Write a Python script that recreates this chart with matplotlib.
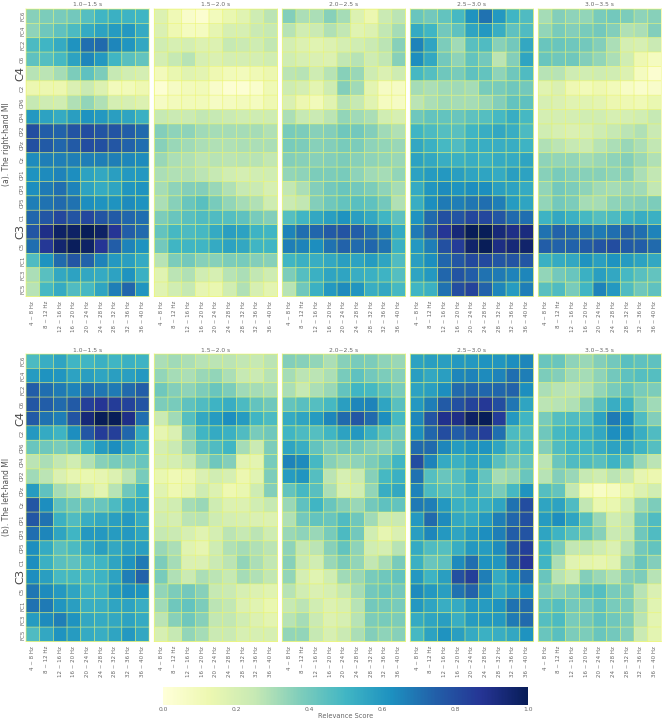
import numpy as np
import matplotlib
matplotlib.use("Agg")
import matplotlib.pyplot as plt

channels = ["FC6","FC4","FC2","C6","C4","C2","CP6","CP4","CP2","CPz","Cz","CP1","CP3","CP5","C1","C3","C5","FC1","FC3","FC5"]
bands = ["4 ~ 8 Hz","8 ~ 12 Hz","12 ~ 16 Hz","16 ~ 20 Hz","20 ~ 24 Hz","24 ~ 28 Hz","28 ~ 32 Hz","32 ~ 36 Hz","36 ~ 40 Hz"]
windows = ["1.0~1.5 s","1.5~2.0 s","2.0~2.5 s","2.5~3.0 s","3.0~3.5 s"]

right_1 = [
[.36,.38,.39,.40,.46,.50,.52,.51,.50],[.35,.41,.44,.48,.54,.57,.59,.60,.54],[.48,.50,.54,.62,.71,.72,.65,.61,.55],
[.44,.46,.49,.57,.65,.60,.50,.45,.43],[.28,.27,.31,.38,.44,.38,.25,.22,.21],[.13,.13,.13,.19,.24,.18,.09,.10,.12],
[.25,.23,.22,.29,.34,.29,.21,.20,.18],[.60,.57,.54,.58,.62,.60,.58,.56,.52],[.80,.75,.74,.78,.80,.78,.78,.75,.72],
[.79,.76,.73,.76,.80,.79,.77,.74,.71],[.64,.67,.67,.67,.67,.67,.67,.65,.64],[.62,.64,.66,.63,.57,.55,.58,.60,.60],
[.63,.68,.71,.66,.57,.54,.56,.61,.62],[.67,.70,.72,.70,.63,.62,.62,.64,.62],[.73,.77,.82,.78,.82,.78,.76,.73,.71],
[.77,.90,.97,.97,1.0,.97,.87,.75,.72],[.71,.86,.95,.99,.97,.87,.75,.66,.62],[.47,.62,.72,.77,.74,.66,.60,.58,.54],
[.30,.45,.55,.57,.55,.54,.57,.62,.52],[.28,.49,.54,.47,.49,.56,.67,.73,.61]]
right_2 = [
[.18,.11,.05,.03,.09,.14,.17,.23,.27],[.19,.12,.08,.08,.15,.20,.20,.24,.25],[.22,.20,.21,.18,.18,.25,.24,.23,.26],
[.21,.25,.28,.20,.19,.21,.21,.21,.22],[.09,.14,.17,.16,.12,.10,.09,.11,.13],[.02,.07,.09,.10,.05,.02,.02,.04,.11],
[.07,.09,.10,.10,.07,.08,.09,.08,.12],[.25,.24,.24,.26,.25,.24,.23,.23,.23],[.37,.35,.35,.32,.31,.31,.31,.31,.29],
[.36,.33,.32,.30,.29,.29,.30,.30,.30],[.33,.30,.29,.27,.28,.27,.28,.28,.26],[.30,.29,.29,.27,.25,.22,.21,.22,.22],
[.31,.35,.37,.37,.33,.29,.25,.24,.20],[.30,.36,.42,.45,.39,.34,.31,.29,.23],[.38,.42,.45,.47,.47,.46,.44,.39,.37],
[.43,.49,.48,.49,.54,.58,.57,.51,.50],[.40,.50,.50,.50,.54,.57,.55,.50,.50],[.28,.38,.40,.36,.36,.38,.39,.37,.36],
[.17,.27,.29,.22,.20,.28,.30,.26,.23],[.17,.22,.25,.15,.14,.22,.29,.20,.16]]
right_3 = [
[.37,.30,.30,.36,.31,.18,.13,.24,.27],[.28,.22,.24,.29,.26,.17,.18,.26,.31],[.21,.18,.17,.18,.21,.22,.24,.27,.36],
[.22,.20,.19,.18,.26,.28,.23,.26,.36],[.27,.28,.23,.28,.36,.33,.23,.19,.23],[.23,.21,.16,.23,.37,.32,.16,.07,.07],
[.19,.13,.10,.17,.28,.25,.17,.08,.07],[.30,.25,.24,.27,.34,.32,.30,.22,.20],[.39,.38,.36,.37,.41,.40,.37,.32,.29],
[.39,.38,.36,.37,.39,.38,.35,.34,.33],[.37,.36,.36,.37,.38,.36,.35,.34,.33],[.34,.35,.38,.38,.39,.35,.32,.31,.34],
[.26,.30,.37,.40,.42,.40,.38,.35,.31],[.24,.26,.37,.41,.43,.45,.44,.40,.29],[.46,.50,.55,.58,.62,.58,.55,.50,.44],
[.66,.71,.73,.76,.78,.75,.71,.67,.54],[.67,.66,.63,.70,.74,.72,.73,.70,.52],[.50,.52,.53,.55,.58,.57,.59,.56,.47],
[.38,.46,.52,.56,.56,.53,.52,.51,.46],[.28,.41,.52,.60,.64,.61,.53,.55,.49]]
right_4 = [
[.42,.40,.43,.49,.62,.70,.60,.50,.47],[.54,.50,.40,.44,.56,.60,.53,.44,.47],[.66,.56,.38,.32,.45,.47,.36,.40,.55],
[.63,.55,.40,.35,.43,.40,.27,.37,.56],[.49,.46,.41,.39,.44,.43,.35,.41,.47],[.31,.30,.32,.32,.31,.39,.39,.41,.40],
[.27,.30,.32,.31,.31,.33,.37,.43,.44],[.41,.43,.43,.42,.44,.46,.49,.53,.49],[.50,.48,.46,.45,.50,.53,.55,.53,.48],
[.55,.52,.49,.47,.52,.53,.53,.53,.51],[.57,.55,.53,.52,.53,.52,.54,.54,.56],[.57,.59,.60,.58,.56,.56,.54,.58,.57],
[.54,.61,.64,.62,.63,.63,.58,.57,.54],[.53,.63,.68,.67,.69,.71,.67,.59,.56],[.62,.72,.79,.78,.82,.82,.77,.72,.71],
[.68,.76,.87,.93,1.0,1.0,.93,.90,.92],[.60,.67,.79,.85,.96,1.0,.91,.93,.96],[.58,.63,.73,.77,.81,.81,.77,.78,.77],
[.56,.60,.73,.78,.75,.70,.68,.66,.65],[.50,.52,.70,.80,.83,.74,.65,.59,.67]]
right_5 = [
[.31,.37,.35,.34,.39,.40,.38,.35,.36],[.34,.39,.37,.39,.40,.37,.29,.30,.37],[.42,.42,.41,.40,.37,.30,.21,.20,.24],
[.42,.41,.41,.37,.34,.30,.22,.12,.08],[.28,.28,.23,.22,.23,.22,.18,.08,.03],[.17,.19,.12,.10,.12,.10,.06,.04,.05],
[.20,.19,.17,.17,.16,.13,.12,.11,.14],[.21,.21,.21,.22,.22,.20,.21,.22,.25],[.22,.20,.19,.20,.23,.25,.27,.29,.24],
[.29,.27,.25,.24,.28,.30,.33,.30,.26],[.35,.34,.34,.32,.33,.35,.37,.33,.29],[.36,.39,.37,.36,.36,.35,.36,.30,.26],
[.34,.40,.38,.35,.32,.31,.33,.32,.26],[.34,.40,.38,.31,.31,.35,.36,.37,.38],[.51,.55,.52,.49,.46,.48,.51,.53,.52],
[.70,.74,.72,.70,.68,.71,.74,.71,.66],[.75,.74,.74,.76,.78,.80,.76,.75,.72],[.52,.54,.55,.62,.58,.62,.59,.57,.55],
[.34,.40,.42,.52,.58,.55,.49,.45,.43],[.45,.47,.39,.50,.66,.60,.47,.41,.44]]
left_1 = [
[.48,.53,.56,.50,.50,.52,.50,.52,.51],[.59,.62,.61,.57,.58,.56,.58,.58,.60],[.75,.71,.68,.66,.71,.69,.68,.72,.75],
[.77,.75,.72,.76,.84,.87,.85,.83,.78],[.76,.70,.67,.78,.93,1.0,1.0,.90,.71],[.60,.54,.51,.63,.77,.85,.84,.73,.55],
[.42,.41,.39,.42,.51,.59,.63,.56,.49],[.27,.30,.26,.22,.29,.36,.39,.39,.42],[.32,.27,.19,.15,.14,.15,.18,.27,.39],
[.59,.44,.31,.28,.20,.16,.28,.41,.50],[.77,.63,.44,.41,.42,.42,.48,.54,.55],[.77,.70,.52,.47,.53,.55,.58,.60,.54],
[.71,.65,.56,.50,.60,.60,.59,.60,.56],[.63,.54,.45,.48,.54,.58,.55,.58,.58],[.63,.52,.45,.44,.49,.50,.56,.62,.68],
[.63,.58,.49,.49,.49,.51,.57,.67,.74],[.69,.64,.60,.56,.51,.51,.59,.63,.62],[.70,.68,.61,.58,.53,.53,.56,.57,.53],
[.59,.64,.67,.62,.55,.54,.55,.57,.54],[.47,.55,.62,.59,.54,.53,.56,.60,.55]]
left_2 = [
[.30,.32,.30,.28,.27,.27,.26,.25,.27],[.34,.31,.30,.33,.34,.30,.25,.24,.28],[.41,.37,.35,.38,.42,.38,.32,.31,.30],
[.38,.39,.44,.47,.51,.53,.48,.43,.41],[.24,.32,.46,.55,.59,.63,.59,.50,.48],[.15,.19,.38,.50,.54,.52,.47,.39,.41],
[.21,.24,.33,.43,.47,.50,.31,.24,.38],[.20,.21,.25,.33,.41,.37,.17,.16,.39],[.14,.11,.13,.19,.22,.20,.13,.17,.38],
[.17,.12,.15,.23,.18,.12,.14,.23,.37],[.21,.22,.31,.33,.23,.18,.18,.22,.25],[.22,.21,.27,.28,.23,.21,.20,.19,.18],
[.25,.24,.20,.17,.21,.27,.25,.27,.23],[.33,.30,.17,.15,.23,.29,.31,.29,.27],[.38,.31,.19,.19,.24,.27,.34,.30,.26],
[.39,.29,.24,.30,.27,.25,.31,.29,.26],[.34,.38,.40,.36,.25,.24,.20,.18,.17],[.32,.41,.43,.38,.27,.26,.19,.17,.14],
[.27,.36,.41,.36,.26,.26,.22,.18,.16],[.20,.25,.34,.31,.24,.24,.20,.20,.20]]
left_3 = [
[.37,.36,.34,.30,.36,.39,.38,.35,.33],[.31,.27,.27,.30,.39,.44,.40,.38,.36],[.30,.25,.30,.33,.43,.50,.49,.45,.39],
[.43,.45,.46,.49,.58,.65,.66,.56,.45],[.54,.56,.59,.65,.72,.77,.72,.63,.49],[.50,.48,.46,.50,.57,.60,.53,.46,.41],
[.56,.53,.43,.38,.41,.40,.37,.36,.41],[.66,.64,.49,.36,.33,.35,.38,.43,.50],[.59,.61,.46,.27,.20,.24,.36,.49,.52],
[.43,.49,.45,.30,.20,.22,.34,.53,.55],[.33,.44,.50,.42,.37,.33,.40,.44,.43],[.29,.40,.43,.42,.47,.41,.32,.24,.24],
[.33,.35,.33,.39,.48,.40,.22,.15,.19],[.35,.26,.27,.36,.43,.35,.22,.21,.28],[.36,.25,.22,.33,.38,.34,.26,.31,.39],
[.34,.21,.17,.22,.32,.33,.39,.41,.43],[.28,.22,.19,.20,.25,.31,.40,.42,.40],[.25,.27,.22,.18,.20,.28,.40,.40,.39],
[.28,.31,.24,.18,.20,.28,.38,.39,.38],[.34,.34,.25,.20,.24,.30,.37,.35,.36]]
left_4 = [
[.57,.58,.58,.60,.60,.62,.61,.63,.65],[.58,.55,.58,.65,.66,.64,.66,.71,.67],[.57,.58,.63,.72,.73,.73,.73,.74,.63],
[.60,.67,.76,.79,.83,.86,.80,.69,.56],[.65,.78,.89,.90,.97,1.0,.85,.60,.50],[.63,.73,.80,.75,.79,.84,.71,.48,.47],
[.72,.72,.65,.59,.61,.62,.56,.47,.49],[.80,.66,.54,.52,.56,.56,.45,.40,.43],[.70,.46,.42,.46,.54,.43,.31,.33,.42],
[.66,.48,.46,.47,.53,.46,.39,.49,.62],[.68,.67,.60,.52,.52,.53,.56,.70,.80],[.60,.72,.64,.55,.55,.60,.67,.73,.79],
[.58,.65,.60,.56,.60,.63,.67,.75,.78],[.54,.47,.46,.53,.60,.59,.64,.76,.84],[.52,.42,.44,.64,.71,.62,.61,.75,.87],
[.60,.51,.58,.79,.84,.67,.54,.62,.72],[.64,.60,.58,.70,.74,.64,.54,.58,.63],[.60,.56,.53,.54,.60,.59,.62,.70,.72],
[.54,.56,.58,.53,.59,.60,.60,.68,.72],[.49,.57,.62,.58,.54,.52,.53,.55,.62]]
left_5 = [
[.42,.42,.35,.33,.37,.40,.45,.44,.44],[.38,.37,.32,.31,.35,.40,.44,.46,.46],[.30,.28,.27,.29,.34,.39,.43,.39,.38],
[.27,.28,.29,.37,.45,.53,.52,.38,.32],[.39,.46,.47,.47,.57,.68,.63,.47,.37],[.41,.49,.51,.52,.55,.63,.62,.53,.47],
[.37,.47,.50,.50,.53,.57,.56,.51,.46],[.27,.42,.47,.47,.45,.51,.45,.33,.27],[.28,.37,.33,.25,.23,.27,.24,.15,.13],
[.46,.43,.26,.09,.06,.08,.14,.18,.22],[.56,.57,.47,.26,.14,.14,.22,.33,.38],[.59,.63,.56,.46,.33,.22,.26,.41,.47],
[.56,.51,.46,.43,.36,.24,.26,.41,.47],[.51,.39,.26,.26,.23,.19,.29,.40,.43],[.50,.30,.17,.16,.15,.17,.34,.42,.37],
[.42,.28,.24,.37,.33,.29,.37,.38,.28],[.39,.36,.38,.45,.46,.39,.38,.28,.19],[.44,.46,.40,.40,.44,.39,.38,.29,.17],
[.46,.48,.39,.40,.44,.41,.38,.28,.16],[.42,.45,.38,.38,.42,.40,.37,.24,.16]]

W, H = 664, 721
TXT = "#666666"
GRID = (0.93, 0.96, 0.38, 0.55)
fig = plt.figure(figsize=(W/100, H/100), dpi=100)
fig.patch.set_facecolor("white")
xlefts = [26, 154.3, 282.3, 410.3, 538.3]
pw = 123.2
rows = [(9, 287.5, [right_1, right_2, right_3, right_4, right_5]),
        (354, 287.5, [left_1, left_2, left_3, left_4, left_5])]
big = {"C3", "C4"}
mesh = None
for top, ph, panels in rows:
    for i, (x0, data) in enumerate(zip(xlefts, panels)):
        ax = fig.add_axes([x0/W, 1-(top+ph)/H, pw/W, ph/H])
        mesh = ax.pcolormesh(np.array(data), cmap="YlGnBu", vmin=0, vmax=1,
                             edgecolors=GRID, linewidth=0.5, antialiased=True)
        mesh.set_snap(False)
        ax.set_xlim(0, 9)
        ax.set_ylim(20, 0)
        for s in ax.spines.values():
            s.set_visible(True); s.set_color(GRID); s.set_linewidth(0.6); s.set_snap(False)
        ax.set_title(windows[i], fontsize=4.3, color=TXT, pad=1.8)
        ax.set_xticks(np.arange(9)+.5)
        ax.set_xticklabels(bands, rotation=90, fontsize=4.0, color=TXT)
        ax.tick_params(axis="both", length=0, pad=3.2)
        if i == 0:
            ax.set_yticks(np.arange(20)+.5)
            ax.set_yticklabels(channels, rotation=90, va="center", fontsize=4.0, color=TXT)
            ax.tick_params(axis="y", pad=0.6)
            for lab in ax.get_yticklabels():
                if lab.get_text() in big:
                    lab.set_fontsize(8.2); lab.set_color("#444444")
        else:
            ax.set_yticks([])

fig.text(6.5/W, 1-144/H, "(a). The right-hand MI", rotation=90, fontsize=5.5, color="#555555", ha="center", va="center")
fig.text(6.5/W, 1-497/H, "(b). The left-hand MI", rotation=90, fontsize=5.5, color="#555555", ha="center", va="center")

cax = fig.add_axes([163/W, 1-704.5/H, 365/W, 17.5/H])
cb = fig.colorbar(mesh, cax=cax, orientation="horizontal")
cb.outline.set_visible(False)
cb.set_ticks([0, .2, .4, .6, .8, 1.0])
cb.ax.tick_params(labelsize=4.3, length=0, pad=1.5, labelcolor=TXT)
cb.set_label("Relevance Score", fontsize=4.8, color=TXT, labelpad=1.2)
fig.savefig("out.png", dpi=100)
